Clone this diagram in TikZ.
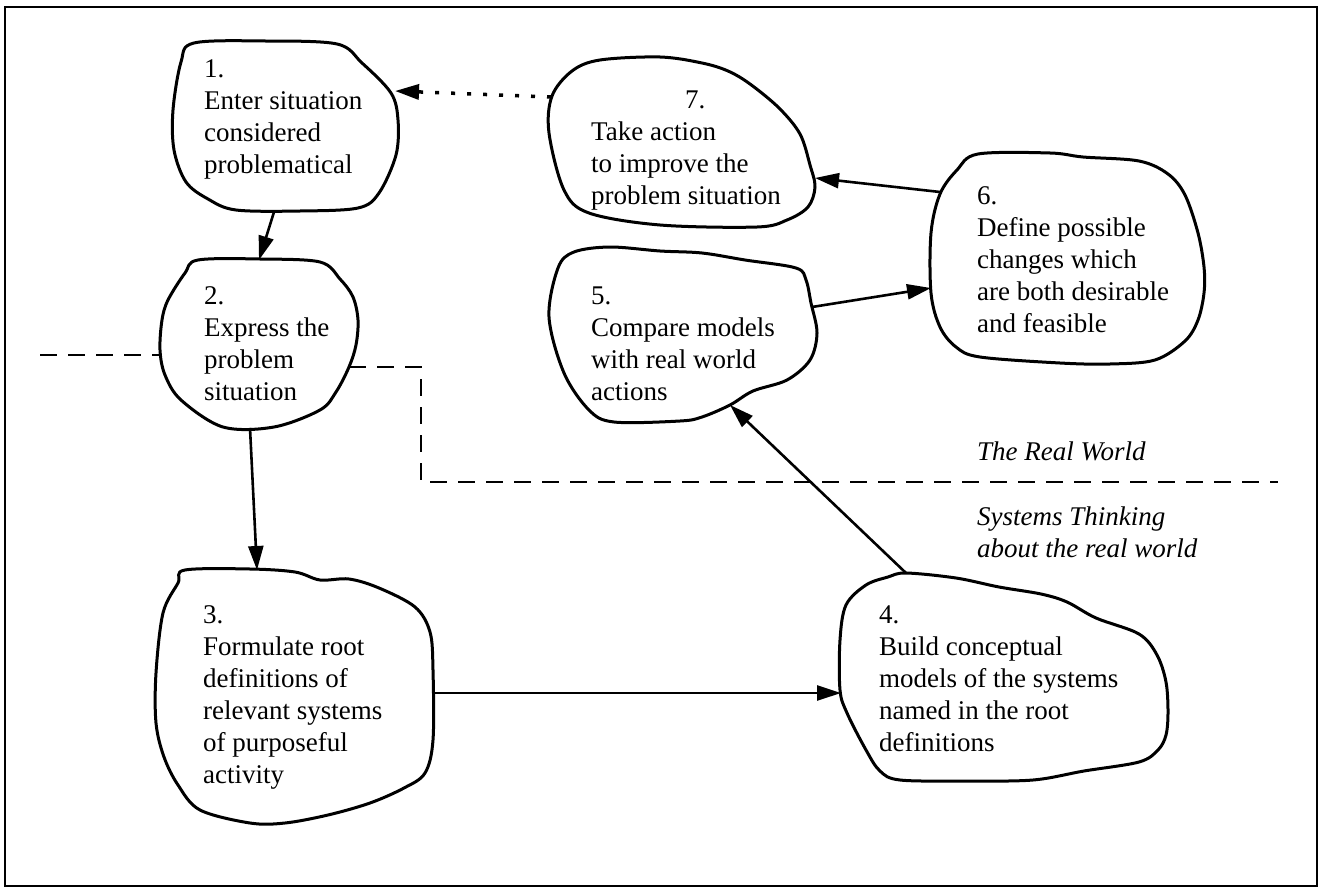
\documentclass[tikz,border=0pt]{standalone}
\usepackage{fontspec}
\setmainfont{Liberation Serif}
\usetikzlibrary{arrows.meta}

\tikzset{
  blob/.style={draw, line width=3pt, line join=round},
  % multi-line texts sit on the baseline of their last line
  stage/.style={anchor=base west, inner sep=0pt, align=left,
    font=\fontsize{27}{32}\selectfont},
  region/.style={anchor=base west, inner sep=0pt, align=left,
    font=\fontsize{27}{32}\selectfont\itshape},
  flow/.style={line width=2.6pt, -{Triangle[length=24pt,width=15pt]}},
  feedback/.style={line width=3.5pt, dash pattern=on 4pt off 12pt,
    -{Triangle[length=24pt,width=15pt]}},
  boundary/.style={line width=2.6pt, dash pattern=on 17pt off 11pt},
}

\begin{document}
\begin{tikzpicture}[x=1pt,y=-1pt]
\useasboundingbox (0,0) rectangle (1324,888);

% outer frame
\draw[line width=1.6pt] (5,7) rectangle (1317,886);

% stage outlines
\draw[blob] plot[smooth cycle, tension=0.55] coordinates {
  (194,43) (265,41) (337,44) (362,63) (391,93) (398,120) (396,155)
  (379,193) (358,208) (300,211) (236,210) (208,199) (186,182)
  (174,150) (173,110) (181,62)};
\draw[blob] plot[smooth cycle, tension=0.55] coordinates {
  (198,260) (260,259) (320,262) (340,279) (353,297) (358,320)
  (356,345) (349,367) (336,392) (320,410) (274,427) (223,427)
  (181,400) (165,375) (160,350) (162,320) (168,300) (185,273)};
\draw[blob] plot[smooth cycle, tension=0.55] coordinates {
  (185,570) (250,569) (295,572) (320,580) (349,579) (379,588)
  (415,607) (430,632) (433,670) (433,740) (425,773) (404,788)
  (370,803) (328,815) (285,823) (250,823) (200,810) (178,785)
  (164,757) (156,723) (156,673) (163,613) (178,583)};
\draw[blob] plot[smooth cycle, tension=0.55] coordinates {
  (906,573) (956,578) (999,587) (1041,594) (1067,602) (1096,618)
  (1139,634) (1157,655) (1166,682) (1168,712) (1166,735)
  (1158,750) (1139,762) (1084,771) (1033,780) (965,781) (900,780)
  (880,771) (866,750) (847,713) (840,690) (840,640) (846,605)
  (866,585) (888,577)};
\draw[blob] plot[smooth cycle, tension=0.55] coordinates {
  (574,252) (610,247) (660,251) (702,253) (745,260) (796,268)
  (806,280) (811,303) (817,333) (810,360) (787,380) (753,391)
  (730,405) (702,417) (680,421) (614,422) (589,410) (564,373)
  (549,317) (558,268)};
\draw[blob] plot[smooth cycle, tension=0.55] coordinates {
  (978,154) (1050,153) (1083,157) (1139,161) (1168,174) (1185,195)
  (1198,233) (1204,267) (1204,293) (1198,320) (1185,341) (1155,360)
  (1110,364) (1060,363) (980,357) (956,347) (940,327) (931,293)
  (931,233) (940,194) (957,170)};
\draw[blob] plot[smooth cycle, tension=0.55] coordinates {
  (600,60) (660,57) (702,63) (728,71) (750,84) (779,108) (800,134)
  (810,165) (815,187) (808,207) (787,220) (757,227) (660,225)
  (589,213) (564,190) (549,133) (552,96) (572,71)};

% stage texts
\node[stage] (t1) at (204,173)
  {1.\\Enter situation\\considered\\problematical};
\node[stage] (t2) at (204,400)
  {2.\\Express the\\problem\\situation};
\node[stage] (t3) at (203,783)
  {3.\\Formulate root\\definitions of\\relevant systems\\of purposeful\\activity};
\node[stage] (t4) at (879,751)
  {4.\\Build conceptual\\models of the systems\\named in the root\\definitions};
\node[stage] (t5) at (591,400)
  {5.\\Compare models\\with real world\\actions};
\node[stage] (t6) at (977,332)
  {6.\\Define possible\\changes which\\are both desirable\\and feasible};
\node[stage] (t7) at (591,204)
  {\hspace*{94pt}7.\\Take action\\to improve the\\problem situation};

% region labels
\node[region] (rw) at (977,460) {The Real World};
\node[region] (st) at (977,557) {Systems Thinking\\about the real world};

% connection points on the outlines
\coordinate (s1) at (274,212);
\coordinate (n2) at (259,260);
\coordinate (s2) at (250,428);
\coordinate (n3) at (257,570);
\coordinate (e3) at (433,693);
\coordinate (w4) at (841,693);
\coordinate (n4) at (906,573);
\coordinate (s5) at (730,405);
\coordinate (e5) at (812,307);
\coordinate (w6) at (931,288);
\coordinate (nw6) at (940,192);
\coordinate (e7) at (815,178);
\coordinate (w7) at (551,97);
\coordinate (ne1) at (395,91);
\coordinate (w2) at (160,355);
\coordinate (e2) at (349,367);

% boundary between the real world and systems thinking
\coordinate (bl) at (40,355);
\coordinate (bc1) at (421,367);
\coordinate (bc2) at (421,482);
\coordinate (br) at (1278,482);
\draw[boundary] (bl) -- (w2);
\draw[boundary] (e2) -- (bc1) -- (bc2) -- (br);

% flow between stages
\draw[flow] (s1) -- (n2);
\draw[flow] (s2) -- (n3);
\draw[flow] (e3) -- (w4);
\draw[flow] (n4) -- (s5);
\draw[flow] (e5) -- (w6);
\draw[flow] (nw6) -- (e7);
\draw[feedback] (w7) -- (ne1);
\end{tikzpicture}
\end{document}
